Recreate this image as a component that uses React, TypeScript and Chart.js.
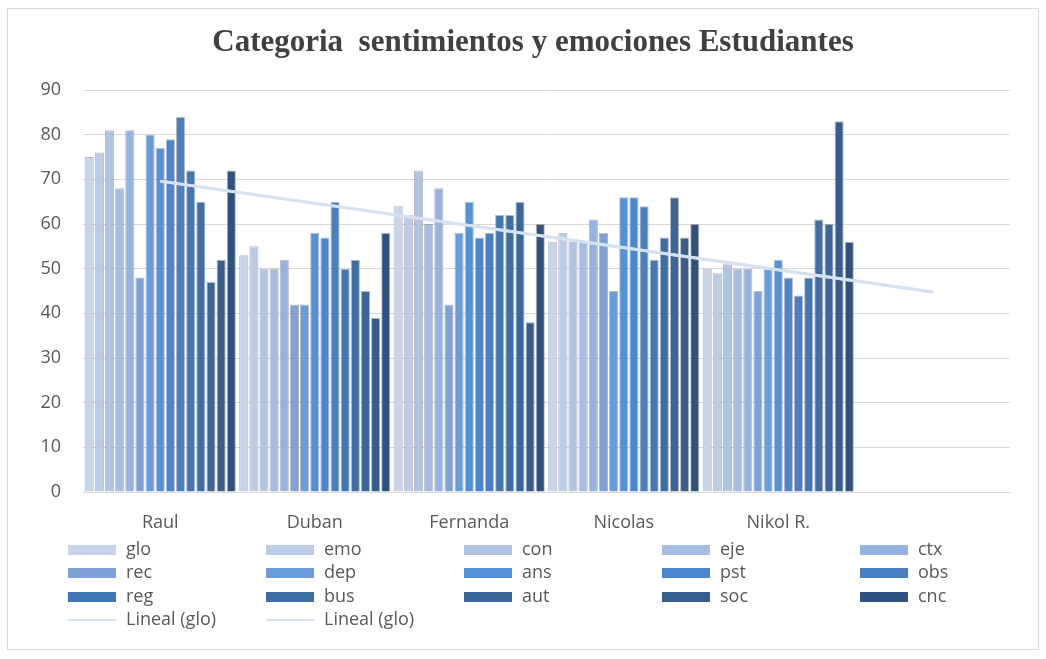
import React, { useEffect, useRef } from "react";
import { Chart, registerables } from "chart.js";

Chart.register(...registerables);

const categories = ["Raul", "Duban", "Fernanda", "Nicolas", "Nikol R.", ""];
const titleText = "Categoria  sentimientos y emociones Estudiantes";
const yTicks = [0, 10, 20, 30, 40, 50, 60, 70, 80, 90];

const glo = [75, 53, 64, 56, 50, null];
const emo = [76, 55, 62, 58, 49, null];
const con = [81, 50, 72, 56, 51, null];
const eje = [68, 50, 60, 56, 50, null];
const ctx = [81, 52, 68, 61, 50, null];
const rec = [48, 42, 42, 58, 45, null];
const dep = [80, 42, 58, 45, 50, null];
const ans = [77, 58, 65, 66, 52, null];
const pst = [79, 57, 57, 66, 48, null];
const obs = [84, 65, 58, 64, 44, null];
const reg = [72, 50, 62, 52, 48, null];
const bus = [65, 52, 62, 57, 61, null];
const aut = [47, 45, 65, 66, 60, null];
const soc = [52, 39, 38, 57, 83, null];
const cnc = [72, 58, 60, 60, 56, null];

// Linear trend of "glo", endpoints
const trendGlo = [69.6, null, null, null, null, 44.8];

const seriesNames = ["glo", "emo", "con", "eje", "ctx", "rec", "dep", "ans", "pst", "obs", "reg", "bus", "aut", "soc", "cnc"];
const seriesValues = [glo, emo, con, eje, ctx, rec, dep, ans, pst, obs, reg, bus, aut, soc, cnc];
const seriesColors = [
  "#c8d4e9", "#bccbe6", "#b2c4e3", "#a5bce3", "#95b2e0",
  "#7ea2d7", "#699cda", "#5491d5", "#4a87ce", "#4a7fc2",
  "#4277b6", "#3e6ea6", "#3b6699", "#365d8b", "#2e527d",
];
const trendColor = "#d6e2f1";

const bgPlugin = {
  id: "bgPlugin",
  beforeDraw(chart: any) {
    const c = chart.ctx;
    c.save();
    c.fillStyle = "#ffffff";
    c.fillRect(0, 0, chart.width, chart.height);
    c.strokeStyle = "#d9d9d9";
    c.lineWidth = 1;
    c.strokeRect(7.5, 8.5, 1031, 641);
    c.fillStyle = "#404040";
    c.font = "bold 31px 'Liberation Serif', 'Times New Roman', serif";
    c.textAlign = "center";
    c.textBaseline = "middle";
    c.fillText(titleText, 533, 43);
    c.restore();
  },
};

const gridLegendPlugin = {
  id: "gridLegend",
  afterDraw(chart: any) {
    const c = chart.ctx;
    const ds = chart.data.datasets;
    const colX = [68, 266, 464, 662, 860];
    const rowY = [550, 573, 597, 620];
    c.save();
    c.font = "18px 'Open Sans', sans-serif";
    c.textBaseline = "middle";
    c.textAlign = "left";
    ds.forEach((d: any, i: number) => {
      const col = i % 5;
      const row = Math.floor(i / 5);
      const x = colX[col];
      const y = rowY[row];
      if (d.type === "line") {
        c.strokeStyle = d.borderColor;
        c.lineWidth = 2;
        c.beginPath();
        c.moveTo(x, y);
        c.lineTo(x + 48, y);
        c.stroke();
      } else {
        c.fillStyle = d.backgroundColor;
        c.fillRect(x, y - 5, 48, 10);
      }
      c.fillStyle = "#595959";
      c.fillText(d.label, x + 58, y);
    });
    c.restore();
  },
};

export default function App() {
  const ref = useRef<HTMLCanvasElement | null>(null);

  useEffect(() => {
    document.body.style.margin = "0";
    if (!ref.current) return;
    const barSets = seriesNames.map((name, i) => ({
      type: "bar" as const,
      label: name,
      data: seriesValues[i],
      backgroundColor: seriesColors[i],
      borderColor: "rgba(100,100,110,0.45)",
      borderWidth: 1,
      barPercentage: 0.9,
      categoryPercentage: 0.985,
      order: 2,
    }));
    const lineSets = [0, 1].map(() => ({
      type: "line" as const,
      label: "Lineal (glo)",
      data: trendGlo,
      borderColor: trendColor,
      borderWidth: 3,
      pointRadius: 0,
      spanGaps: true,
      fill: false,
      order: 1,
    }));
    const chart = new Chart(ref.current, {
      type: "bar",
      data: { labels: categories, datasets: [...barSets, ...lineSets] as any },
      plugins: [bgPlugin, gridLegendPlugin],
      options: {
        responsive: false,
        animation: false,
        layout: { padding: { top: 90, left: 0, right: 36, bottom: 117 } },
        plugins: {
          legend: { display: false },
          title: { display: false },
          tooltip: { enabled: false },
        },
        scales: {
          x: {
            grid: { display: false },
            border: { color: "#d9d9d9" },
            ticks: {
              color: "#595959",
              font: { family: "'Open Sans', sans-serif", size: 18 },
              padding: 12,
              maxRotation: 0,
            },
            afterFit(scale: any) {
              scale.height = 50;
            },
          },
          y: {
            min: 0,
            max: 90,
            afterBuildTicks(scale: any) {
              scale.ticks = yTicks.map((v) => ({ value: v }));
            },
            grid: { color: "#d9d9d9", lineWidth: 1, drawTicks: false },
            border: { display: false },
            ticks: {
              color: "#595959",
              font: { family: "'Open Sans', sans-serif", size: 18 },
              padding: 22,
            },
            afterFit(scale: any) {
              scale.width = 83;
            },
          },
        },
      },
    });
    return () => chart.destroy();
  }, []);

  return (
    <div style={{ width: 1046, height: 659 }}>
      <canvas ref={ref} width={1046} height={659} />
    </div>
  );
}
